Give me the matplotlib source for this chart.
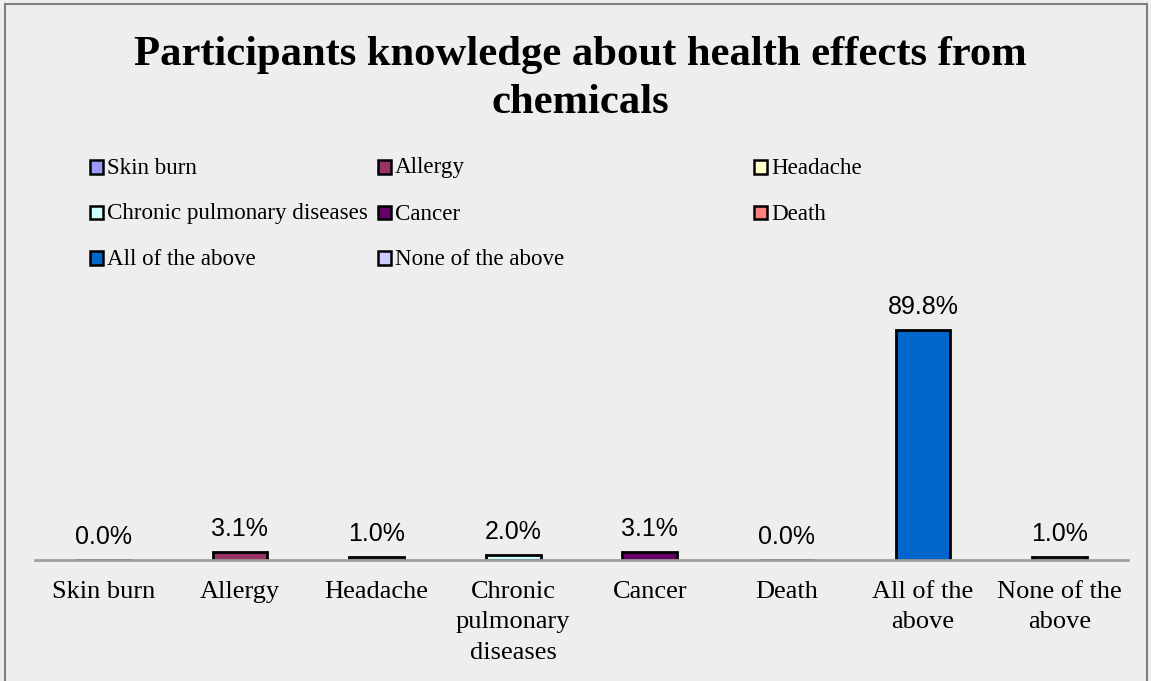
import matplotlib.pyplot as plt
from matplotlib.patches import Rectangle

categories = ["Skin burn", "Allergy", "Headache", "Chronic pulmonary diseases",
              "Cancer", "Death", "All of the above", "None of the above"]
tick_labels = ["Skin burn", "Allergy", "Headache", "Chronic\npulmonary\ndiseases",
               "Cancer", "Death", "All of the\nabove", "None of the\nabove"]
percent = [0.0, 3.1, 1.0, 2.0, 3.1, 0.0, 89.8, 1.0]
colors = ["#9999FF", "#993366", "#FFFFCC", "#CCFFFF",
          "#660066", "#FF8080", "#0066CC", "#CCCCFF"]

W, H = 1151, 681
BG = "#EEEEEE"
serif = ["Liberation Serif", "DejaVu Serif"]
sans = ["Liberation Sans", "DejaVu Sans"]

fig = plt.figure(figsize=(W / 100, H / 100), dpi=100)
fig.patch.set_facecolor(BG)

# outer chart frame
fig.patches.append(Rectangle((5 / W, -0.01), (1147 - 5) / W, 1 - 4 / H + 0.01,
                             transform=fig.transFigure, fill=False,
                             edgecolor="#7F7F7F", linewidth=1.5))

# two-line title, one text per line
for line, base in [("Participants knowledge about health effects from", 65),
                   ("chemicals", 113)]:
    fig.text(580 / W, 1 - base / H, line, ha="center", va="baseline",
             fontsize=30.7, fontweight="bold", family=serif)

# legend laid out in rows of three
col_x = [90, 378, 754]
row_y = [167, 213, 258]
for i, (name, c) in enumerate(zip(categories, colors)):
    x = col_x[i % 3]
    y = row_y[i // 3]
    fig.patches.append(Rectangle((x / W, 1 - (y + 6.5) / H), 13 / W, 13 / H,
                                 transform=fig.transFigure, facecolor=c,
                                 edgecolor="black", linewidth=1.8))
    fig.text((x + 17) / W, 1 - (y + 1) / H, name, ha="left", va="center",
             fontsize=16.6, family=serif)

ax = fig.add_axes([35 / W, 1 - 560 / H, (1128 - 35) / W, 256 / H])
ax.set_facecolor(BG)
xs = range(len(categories))
bars = ax.bar(xs, percent, width=0.4, color=colors, edgecolor="black",
              linewidth=2, zorder=3)
ax.set_xlim(-0.5, len(categories) - 0.5)
ax.set_ylim(0, 100)

for b, v in zip(bars, percent):
    ax.annotate(f"{v:.1f}%", (b.get_x() + b.get_width() / 2, v),
                xytext=(0, 8), textcoords="offset points",
                ha="center", va="bottom", fontsize=18, family=sans)

for s in ["top", "right", "left"]:
    ax.spines[s].set_visible(False)
ax.spines["bottom"].set_color("#A0A0A0")
ax.spines["bottom"].set_linewidth(2)
ax.spines["bottom"].set_zorder(4)
ax.set_yticks([])
ax.set_xticks(list(xs))
ax.set_xticklabels(tick_labels, fontsize=19, family=serif, linespacing=1.5,
                   va="top")
ax.tick_params(axis="x", length=0, pad=15)

fig.savefig("out.png", dpi=100, facecolor=BG)
